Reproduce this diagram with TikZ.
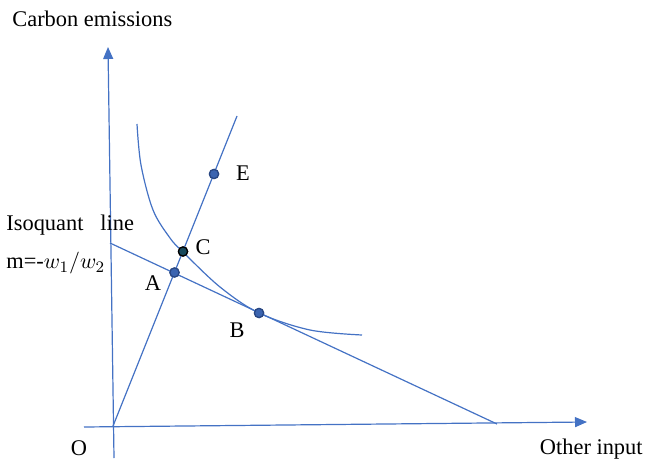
\documentclass[tikz,border=0pt]{standalone}
\usepackage{fontspec}
\setmainfont{Liberation Serif}
\usetikzlibrary{arrows.meta}

\definecolor{lineblue}{RGB}{68,114,196}
\definecolor{dotblue}{RGB}{59,100,176}
\definecolor{dotrim}{RGB}{40,70,130}
\definecolor{dotteal}{RGB}{22,72,92}

\begin{document}
\begin{tikzpicture}[x=0.5pt,y=-0.5pt,
  ln/.style={lineblue,line width=0.6pt},
  ax/.style={ln,-{Triangle[length=6pt,width=5pt]}},
  pt/.style={circle,draw=dotrim,fill=dotblue,line width=0.6pt,
             minimum size=4.6pt,inner sep=0pt},
  lab/.style={font=\fontsize{11.2}{13}\selectfont,inner sep=0pt,anchor=base}]

  \useasboundingbox (0,0) rectangle (646,459);

  % axes
  \coordinate (xs) at (84,427);
  \coordinate (xe) at (587,422);
  \coordinate (ys) at (114,458);
  \coordinate (ye) at (108,47);
  \draw[ax] (xs) -- (xe);
  \draw[ax] (ys) -- (ye);

  % points
  \coordinate (O) at (113,426);
  \coordinate (top) at (237,116);
  \coordinate (L1) at (110,243);
  \coordinate (L2) at (497,424);
  \node[pt] (A) at (174.5,272.5) {};
  \node[pt] (B) at (259,313) {};
  \node[pt,fill=dotteal,draw=black] (C) at (183,251.5) {};
  \node[pt] (E) at (214,174) {};

  % ray and isocost line
  \draw[ln] (O) -- (top);
  \draw[ln] (L1) -- (L2);

  % isoquant
  \draw[ln] plot[smooth,tension=0.55] coordinates
    {(137,124) (141,165) (153,210) (170,238) (183,252) (220,287)
     (259,313) (310,330) (362,335)};
  \node[pt] at (A) {};
  \node[pt] at (B) {};
  \node[pt,fill=dotteal,draw=black] at (C) {};
  \node[pt] at (E) {};

  % labels
  \node[lab] (tA) at (153,290) {A};
  \node[lab] (tB) at (237,337) {B};
  \node[lab] (tC) at (203,255) {C};
  \node[lab] (tE) at (243,181) {E};
  \node[lab] (tO) at (79,455) {O};
  \node[lab,anchor=base west] (ty) at (12,27) {Carbon emissions};
  \node[lab,anchor=base east] (tx) at (643,454) {Other input};
  \node[lab,anchor=base west] (tiso) at (6,231) {Isoquant\ \ \ line};
  \node[lab,anchor=base west] (tm) at (6,269) {m=-$w_1/w_2$};
\end{tikzpicture}
\end{document}
